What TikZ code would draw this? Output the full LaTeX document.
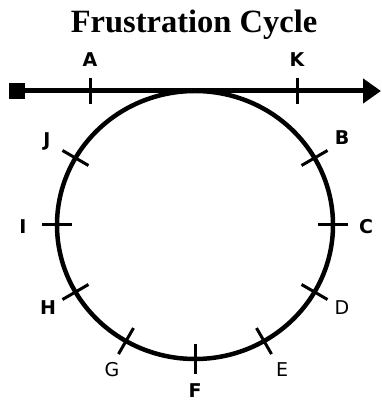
\documentclass[tikz,border=0pt]{standalone}
\usepackage{fontspec}
\setmainfont{Liberation Serif}
\newfontfamily\lblfont{DejaVu Sans}
\usetikzlibrary{arrows.meta,calc}
\tikzset{
  lbl/.style={font=\lblfont\bfseries\fontsize{19}{19}\selectfont, inner sep=0pt},
  lblthin/.style={font=\lblfont\fontsize{19}{19}\selectfont, inner sep=0pt},
  tickmark/.style={line width=3pt},
  mainline/.style={line width=5pt},
  ring/.style={line width=4.5pt},
}
\begin{document}
\begin{tikzpicture}[x=1pt,y=1pt]
\useasboundingbox (0,0) rectangle (381,404);
% title
\node[font=\bfseries\fontsize{32.5}{32.5}\selectfont, inner sep=0pt, anchor=base] (title) at (194,371) {Frustration Cycle};
% center of ring
\coordinate (O) at (195,179);
% main line
\node[fill=black, minimum size=16pt, inner sep=0pt] (start) at (17,313) {};
\coordinate (tip) at (381,313);
\draw[mainline, -{Triangle[length=18pt,width=24pt]}] (start.center) -- (tip);
% ring
\draw[ring] (O) ellipse [x radius=138, y radius=134];
% points on ring
\coordinate (pC) at ($(O)+(0:138 and 134)$);
\coordinate (pB) at ($(O)+(30:138 and 134)$);
\coordinate (pJ) at ($(O)+(150:138 and 134)$);
\coordinate (pI) at ($(O)+(180:138 and 134)$);
\coordinate (pH) at ($(O)+(210:138 and 134)$);
\coordinate (pG) at ($(O)+(240:138 and 134)$);
\coordinate (pF) at ($(O)+(270:138 and 134)$);
\coordinate (pE) at ($(O)+(300:138 and 134)$);
\coordinate (pD) at ($(O)+(330:138 and 134)$);
% ticks on ring
\foreach \p/\a in {C/0,B/30,J/150,I/180,H/210,G/240,F/270,E/300,D/330}{
  \draw[tickmark] ($(p\p)+(\a:15)$) -- ($(p\p)+(\a+180:15)$);
}
% ticks on line
\coordinate (pA) at (90,313);
\coordinate (pK) at (297,313);
\draw[tickmark] ($(pA)+(0,13)$) -- ($(pA)+(0,-13)$);
\draw[tickmark] ($(pK)+(0,13)$) -- ($(pK)+(0,-13)$);
% labels
\node[lbl] (A) at (90,344) {A};
\node[lbl] (K) at (297,344) {K};
\node[lbl] (J) at (47,263) {J};
\node[lbl] (B) at (342,266) {B};
\node[lbl] (I) at (23,177) {I};
\node[lbl] (C) at (366,177) {C};
\node[lbl] (H) at (48,96) {H};
\node[lblthin] (D) at (342,96) {D};
\node[lblthin] (G) at (112,34) {G};
\node[lblthin] (E) at (282,34) {E};
\node[lbl] (F) at (195,13) {F};
\end{tikzpicture}
\end{document}
